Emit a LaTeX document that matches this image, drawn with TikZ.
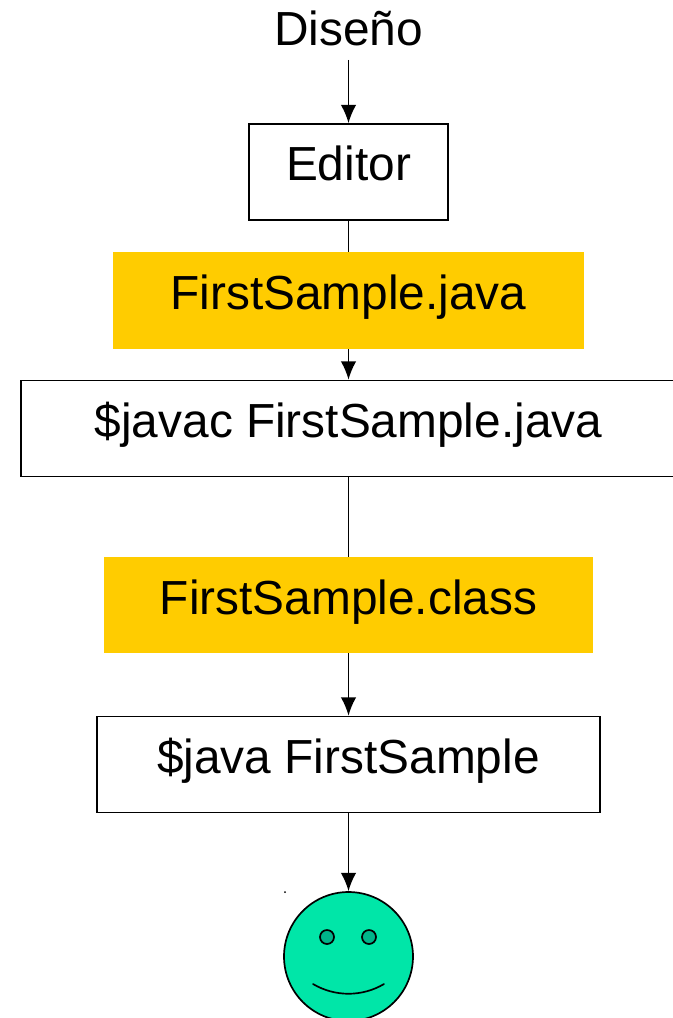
\documentclass[tikz,border=0pt]{standalone}
\usepackage{fontspec}
\setmainfont{Liberation Sans}
\usetikzlibrary{arrows.meta}
\definecolor{filecolor}{HTML}{FFCC00}
\definecolor{facecolor}{HTML}{00E6A8}
\definecolor{eyecolor}{HTML}{00B58A}
\tikzset{
	txt/.style={font=\fontsize{34}{41}\selectfont, inner sep=0pt, text height=57*0.711pt, text depth=39*0.711pt},
	cmdbox/.style={txt, draw, line width=1.2pt, fill=white, rectangle},
	filebox/.style={txt, fill=filecolor, rectangle},
	flow/.style={line width=1.2pt, -{Latex[length=13pt,width=11pt]}}
}
\begin{document}
\begin{tikzpicture}[x=0.025cm,y=-0.025cm]
	\useasboundingbox (0,0) rectangle (672,1018);
	\node [font=\fontsize{34}{41}\selectfont, inner sep=0pt, anchor=base] (diseno) at (348.5,46) {Diseño};
	\node [cmdbox, minimum width=199*0.711pt, minimum height=96*0.711pt] (editor) at (348.5,172) {Editor};
	\node [cmdbox, minimum width=655*0.711pt, minimum height=96*0.711pt] (javac) at (348.5,428.5) {\$javac FirstSample.java};
	\node [cmdbox, minimum width=503*0.711pt, minimum height=96*0.711pt] (run) at (348.5,764.5) {\$java FirstSample};
	\node [circle, draw, line width=1.2pt, fill=facecolor, minimum size=129*0.711pt, inner sep=0pt] (smile) at (348.5,956.5) {};

	\coordinate (diseno_out) at (348.5,60);
	\draw [flow] (diseno_out) -- (editor.north);
	\draw [flow] (editor.south) -- (javac.north);
	\draw [flow] (javac.south) -- (run.north);
	\draw [flow] (run.south) -- (smile.north);

	% files sit on top of the arrows
	\node [filebox, minimum width=471*0.711pt, minimum height=97*0.711pt] (javafile) at (348.5,300.5) {FirstSample.java};
	\node [filebox, minimum width=489*0.711pt, minimum height=97*0.711pt] (classfile) at (348.5,605) {FirstSample.class};

	% face
	\node [circle, draw, line width=1.2pt, fill=eyecolor, minimum size=14*0.711pt, inner sep=0pt] (eyeL) at (327,937) {};
	\node [circle, draw, line width=1.2pt, fill=eyecolor, minimum size=14*0.711pt, inner sep=0pt] (eyeR) at (369,937) {};
	\coordinate (mouthL) at (313,984);
	\coordinate (mouthR) at (384,984);
	\draw [line width=1.2pt, line cap=round] (mouthL) .. controls (335,997) and (362,997) .. (mouthR);
	\fill (285,892) circle (1);
\end{tikzpicture}
\end{document}
